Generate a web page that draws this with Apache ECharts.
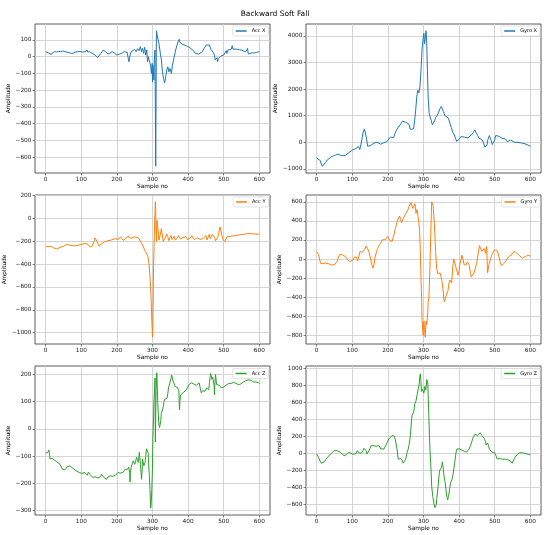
<!DOCTYPE html>
<html><head><meta charset="utf-8">
<script src="https://cdn.jsdelivr.net/npm/echarts@6/dist/echarts.min.js"></script>
<style>html,body{margin:0;padding:0;background:#fff}#c{width:550px;height:535px}</style>
</head><body><div id="c"></div>
<script>
const accX = [[0,30],[4,26],[8,22],[12,18],[15,14],[19,20],[24,30],[30,28],[36,32],[42,30],[48,34],[51,36],[55,30],[60,28],[66,24],[72,20],[78,22],[84,28],[90,30],[97,32],[104,28],[110,30],[114,26],[116,40],[118,28],[124,30],[130,20],[136,14],[141,4],[146,-4],[150,0],[155,20],[162,40],[168,30],[175,16],[181,22],[187,30],[193,22],[200,10],[207,16],[214,20],[220,30],[225,40],[229,26],[232,-12],[234,-30],[237,10],[240,30],[245,38],[250,44],[254,30],[258,48],[262,36],[266,60],[269,30],[272,50],[275,20],[278,56],[281,10],[284,40],[286,-30],[288,0],[291,-10],[293,-40],[295,-60],[297,-100],[299,-40],[300,-150],[301,-50],[302,-80],[304,-140],[305,-20],[307,40],[309,-654],[311,155],[313,130],[316,140],[318,80],[322,20],[325,-20],[328,-90],[331,-130],[334,-156],[337,-120],[340,-80],[343,-60],[346,-90],[349,-70],[351,-85],[353,-100],[356,-50],[359,-20],[361,-10],[365,40],[369,70],[372,90],[375,104],[377,85],[380,80],[385,74],[390,70],[395,66],[400,60],[405,54],[410,50],[415,36],[420,20],[425,16],[430,16],[435,22],[440,30],[445,50],[451,70],[456,66],[460,70],[464,44],[468,34],[471,24],[474,10],[476,-20],[478,-10],[479,-30],[481,-6],[483,-28],[485,-10],[488,0],[492,4],[496,6],[500,10],[504,20],[507,36],[509,20],[512,40],[517,46],[521,44],[524,66],[526,44],[532,46],[538,44],[544,42],[550,40],[556,34],[562,30],[566,28],[567,50],[569,16],[574,20],[580,24],[586,22],[592,26],[600,30]];
const gyroX = [[0,-600],[5,-630],[10,-690],[13,-820],[16,-905],[20,-860],[25,-760],[30,-665],[35,-600],[40,-560],[45,-530],[50,-500],[55,-440],[60,-450],[65,-470],[70,-510],[75,-540],[80,-500],[85,-450],[90,-400],[95,-350],[100,-300],[105,-260],[110,-240],[115,-230],[117,-165],[119,-200],[121,-280],[124,-100],[127,100],[130,350],[134,500],[137,440],[140,150],[143,-150],[146,-200],[150,-140],[155,-80],[160,-40],[165,-10],[170,0],[175,-30],[180,-80],[183,-90],[187,-30],[192,10],[197,20],[202,60],[207,190],[212,130],[216,170],[220,320],[224,450],[228,540],[233,550],[237,700],[241,790],[245,740],[250,750],[255,740],[259,680],[263,480],[268,420],[272,500],[275,800],[278,1200],[281,1700],[284,1950],[287,1850],[290,2100],[293,2700],[296,3500],[299,3900],[301,4090],[303,3700],[305,3900],[307,4190],[309,3800],[311,2700],[313,1700],[316,1070],[319,1000],[322,800],[325,650],[328,590],[331,800],[334,920],[338,1000],[342,1100],[346,1250],[350,1345],[353,1250],[356,1150],[360,1000],[365,970],[370,900],[374,720],[378,560],[382,380],[386,290],[390,150],[393,30],[395,0],[398,40],[401,120],[405,210],[410,200],[415,190],[420,170],[425,160],[430,210],[435,280],[440,360],[444,465],[448,350],[452,250],[456,150],[460,120],[464,90],[468,0],[472,-180],[475,-250],[478,-120],[481,100],[485,250],[488,200],[490,60],[493,-90],[496,-40],[499,50],[503,250],[508,300],[512,220],[516,170],[520,150],[525,140],[530,120],[535,20],[540,60],[545,80],[550,10],[555,0],[560,-20],[565,-10],[570,-10],[575,-30],[580,-60],[585,-60],[590,-90],[595,-120],[600,-150]];
const accY = [[0,-248],[3,-240],[6,-246],[8,-230],[11,-250],[15,-244],[18,-250],[22,-256],[26,-262],[30,-268],[35,-260],[40,-254],[45,-248],[50,-242],[55,-234],[60,-228],[65,-232],[70,-236],[75,-240],[80,-240],[85,-238],[90,-236],[95,-232],[100,-228],[105,-224],[110,-219],[113,-214],[115,-208],[118,-225],[121,-236],[124,-248],[127,-254],[130,-246],[133,-232],[136,-200],[139,-170],[141,-160],[143,-180],[146,-215],[150,-242],[154,-232],[158,-220],[162,-210],[166,-204],[170,-198],[175,-195],[180,-190],[185,-188],[190,-184],[195,-178],[200,-175],[205,-182],[210,-160],[214,-170],[218,-192],[222,-182],[226,-172],[230,-168],[232,-152],[235,-170],[238,-160],[242,-172],[246,-158],[250,-162],[255,-165],[260,-168],[264,-180],[268,-210],[272,-232],[276,-262],[280,-290],[284,-305],[287,-330],[290,-394],[292,-470],[294,-560],[296,-700],[298,-880],[300,-1040],[301,-950],[302,-700],[303,-420],[305,-160],[306,-40],[307,50],[308,146],[309,60],[310,-130],[311,-200],[312,-60],[313,-15],[314,-60],[316,-110],[318,-190],[320,-180],[322,-140],[325,-90],[327,-100],[330,-200],[333,-190],[336,-170],[340,-135],[343,-160],[346,-195],[349,-170],[352,-150],[355,-185],[358,-175],[361,-155],[364,-190],[367,-204],[370,-170],[373,-150],[376,-140],[379,-180],[382,-195],[386,-165],[390,-150],[394,-160],[398,-185],[402,-178],[406,-172],[410,-150],[414,-165],[418,-185],[422,-190],[426,-168],[430,-160],[434,-185],[438,-192],[442,-175],[446,-165],[450,-150],[453,-188],[456,-165],[459,-140],[462,-176],[465,-160],[468,-138],[472,-150],[475,-170],[477,-195],[479,-206],[482,-170],[485,-150],[488,-100],[490,-75],[492,-110],[495,-150],[498,-185],[500,-195],[503,-204],[506,-180],[510,-160],[514,-150],[520,-155],[525,-150],[530,-152],[535,-148],[540,-146],[545,-142],[550,-140],[555,-141],[560,-137],[565,-132],[570,-131],[575,-134],[580,-134],[585,-136],[590,-137],[595,-135],[600,-137]];
const gyroY = [[0,77],[3,65],[5,50],[8,0],[11,-45],[14,-40],[17,-50],[21,-40],[25,-42],[29,-50],[33,-48],[37,-55],[41,-62],[45,-58],[50,-60],[54,-45],[58,-20],[61,20],[64,45],[68,50],[72,45],[76,40],[81,25],[86,0],[90,-15],[93,-28],[97,-25],[102,-10],[106,20],[109,40],[112,20],[115,-20],[118,20],[122,80],[125,95],[128,70],[131,50],[135,100],[139,137],[143,110],[147,70],[151,10],[155,-60],[158,-95],[161,-60],[164,20],[167,60],[171,110],[175,140],[180,170],[184,200],[188,215],[193,205],[196,215],[199,235],[202,215],[206,190],[209,180],[212,185],[216,240],[221,320],[225,380],[229,420],[233,450],[236,410],[238,380],[242,410],[245,440],[248,450],[251,480],[254,500],[257,520],[259,550],[261,560],[263,540],[265,590],[267,570],[270,530],[273,550],[276,580],[279,480],[282,520],[285,430],[287,380],[289,300],[291,100],[293,-200],[295,-450],[296,-650],[298,-750],[299,-800],[300,-720],[301,-650],[303,-740],[305,-820],[306,-720],[307,-650],[309,-690],[310,-700],[312,-560],[313,-450],[315,-420],[316,-400],[318,-100],[320,200],[322,480],[323,600],[325,580],[327,560],[330,400],[332,250],[334,80],[337,-100],[340,-150],[343,-170],[345,-140],[347,-150],[350,-200],[352,-240],[355,-330],[357,-420],[359,-450],[361,-410],[364,-380],[366,-360],[369,-330],[371,-260],[374,-220],[377,-240],[379,-250],[381,-150],[383,-50],[385,0],[387,10],[389,-20],[392,-100],[395,-140],[397,-170],[400,-120],[402,-60],[405,-10],[408,40],[410,20],[412,-20],[414,-60],[417,-70],[420,-60],[423,-30],[425,-20],[428,-60],[432,-150],[434,-190],[436,-210],[439,-170],[442,-140],[444,-130],[446,-120],[449,-50],[452,20],[455,90],[457,140],[459,154],[461,120],[464,80],[467,100],[470,110],[472,90],[475,60],[477,130],[478,100],[479,-60],[480,-144],[482,-100],[484,-60],[486,-30],[488,0],[491,30],[494,60],[498,90],[502,105],[505,95],[509,70],[512,20],[515,-30],[519,-70],[523,-65],[528,-40],[533,-10],[539,25],[543,30],[547,40],[551,70],[554,84],[558,75],[563,60],[568,40],[573,20],[577,10],[582,15],[586,25],[590,30],[593,40],[597,35],[600,30]];
const accZ = [[0,-89],[3,-86],[6,-86],[8,-80],[9,-77],[11,-95],[12,-110],[15,-105],[18,-108],[21,-110],[25,-115],[28,-118],[31,-120],[35,-125],[40,-130],[44,-140],[47,-148],[50,-152],[54,-150],[57,-148],[61,-138],[64,-133],[68,-136],[73,-142],[77,-145],[82,-150],[86,-154],[90,-156],[94,-160],[98,-162],[101,-163],[105,-158],[110,-160],[113,-165],[117,-170],[120,-158],[122,-160],[125,-168],[129,-173],[132,-178],[136,-185],[139,-176],[143,-170],[147,-180],[150,-183],[154,-175],[157,-166],[161,-172],[164,-179],[168,-182],[171,-185],[175,-176],[178,-170],[182,-172],[185,-170],[189,-174],[193,-175],[196,-170],[199,-166],[203,-160],[207,-158],[210,-162],[213,-166],[217,-160],[220,-154],[223,-148],[225,-142],[228,-146],[230,-148],[233,-140],[235,-135],[236,-160],[237,-195],[238,-160],[240,-142],[243,-128],[246,-117],[248,-124],[250,-130],[253,-118],[255,-104],[258,-112],[260,-123],[262,-100],[263,-86],[265,-110],[266,-130],[268,-160],[269,-185],[271,-150],[272,-110],[274,-125],[276,-135],[279,-123],[281,-100],[283,-73],[286,-67],[288,-90],[289,-123],[291,-170],[293,-222],[295,-291],[297,-260],[298,-222],[300,-140],[301,-36],[303,40],[304,100],[306,150],[307,187],[308,-48],[309,40],[310,137],[312,206],[313,170],[315,88],[317,40],[318,14],[320,5],[321,7],[323,30],[325,57],[327,50],[329,63],[331,85],[332,100],[334,108],[336,113],[339,110],[341,113],[343,130],[345,150],[348,165],[350,175],[352,185],[354,197],[356,190],[358,175],[361,165],[363,156],[365,152],[367,150],[370,152],[372,153],[374,140],[375,100],[376,70],[377,105],[379,125],[382,130],[384,132],[388,135],[391,138],[394,142],[397,144],[400,155],[403,163],[406,166],[409,169],[412,167],[416,165],[420,162],[423,160],[427,165],[431,169],[434,150],[437,132],[440,140],[444,144],[447,138],[449,135],[452,150],[454,156],[456,150],[458,144],[460,170],[463,203],[465,195],[467,182],[469,190],[471,188],[473,160],[474,125],[475,160],[477,200],[479,175],[480,163],[483,168],[485,169],[488,160],[491,153],[494,150],[496,150],[500,154],[503,156],[506,160],[509,163],[513,166],[517,169],[520,167],[524,165],[527,170],[531,172],[534,168],[537,163],[541,162],[545,160],[548,165],[552,169],[555,172],[559,175],[562,177],[565,178],[569,180],[573,182],[577,178],[580,175],[584,172],[587,169],[590,172],[593,175],[597,170],[600,166]];
const gyroZ = [[0,-8],[3,-15],[5,-28],[7,-60],[9,-88],[11,-105],[13,-116],[17,-110],[21,-100],[25,-75],[30,-48],[35,-25],[39,-8],[44,15],[49,32],[54,34],[58,32],[63,25],[67,12],[72,-10],[77,-28],[80,-25],[83,-16],[87,0],[91,12],[96,5],[100,-8],[105,-5],[109,-8],[112,10],[114,32],[117,15],[119,4],[123,0],[126,4],[130,30],[133,60],[137,72],[139,30],[141,-8],[144,10],[147,32],[150,60],[153,92],[156,80],[158,72],[161,90],[163,100],[166,90],[168,84],[172,95],[175,92],[178,70],[180,52],[185,50],[189,52],[192,75],[195,100],[199,140],[203,172],[208,195],[212,212],[215,210],[218,204],[221,160],[223,112],[226,40],[229,-68],[232,-60],[234,-76],[236,-60],[238,-48],[241,-90],[243,-116],[246,-100],[250,-68],[252,-30],[254,12],[257,50],[259,92],[262,170],[264,252],[266,370],[268,452],[270,470],[272,484],[274,530],[276,592],[279,620],[280,610],[282,692],[284,700],[286,712],[288,820],[289,892],[291,940],[292,952],[293,850],[294,732],[296,760],[298,772],[300,740],[301,712],[303,760],[304,792],[306,750],[307,732],[308,800],[309,872],[311,860],[312,832],[313,700],[315,452],[316,300],[318,52],[320,-100],[321,-188],[323,-388],[326,-508],[328,-560],[330,-608],[332,-640],[334,-648],[336,-600],[337,-548],[339,-470],[341,-388],[343,-290],[345,-208],[348,-185],[350,-168],[352,-130],[353,-100],[355,-160],[356,-208],[358,-280],[361,-348],[363,-420],[364,-468],[366,-520],[368,-548],[370,-510],[372,-468],[374,-400],[376,-348],[378,-330],[380,-308],[383,-250],[385,-188],[388,-100],[390,-28],[392,20],[394,52],[397,55],[401,52],[404,45],[407,40],[410,45],[412,40],[415,25],[418,12],[421,15],[425,20],[428,50],[432,92],[435,130],[438,172],[441,200],[444,224],[448,215],[452,212],[455,225],[459,244],[462,235],[464,212],[467,200],[469,210],[471,172],[474,140],[476,100],[478,110],[480,124],[483,80],[486,44],[489,30],[493,12],[496,10],[499,12],[503,-20],[507,-68],[510,-62],[513,-60],[517,-70],[521,-68],[525,-66],[530,-68],[533,-72],[537,-76],[541,-80],[544,-88],[547,-100],[549,-116],[552,-90],[554,-68],[557,-45],[560,-28],[564,-10],[567,0],[571,8],[575,12],[578,8],[582,0],[586,-3],[591,-8],[595,-12],[600,-16]];

const seriesNames = ['Acc X','Gyro X','Acc Y','Gyro Y','Acc Z','Gyro Z'];
const seriesList = [accX, gyroX, accY, gyroY, accZ, gyroZ];
const lineColors = ['#1f77b4','#1f77b4','#ff7f0e','#ff7f0e','#2ca02c','#2ca02c'];
const xTicks = [0,100,200,300,400,500,600];
const yTicks = [
  [-600,-500,-400,-300,-200,-100,0,100],
  [-1000,0,1000,2000,3000,4000],
  [-1000,-800,-600,-400,-200,0,200],
  [-800,-600,-400,-200,0,200,400,600],
  [-300,-200,-100,0,100,200],
  [-600,-400,-200,0,200,400,600,800,1000]
];
const titleText = 'Backward Soft Fall';
const xName = 'Sample no';
const yName = 'Amplitude';

const FONT = 'DejaVu Sans';
const gridPos = [[35,24],[306,24],[35,195],[306,195],[35,366],[306,366]];
const yNameGaps = [20,24,20,20.5,19.5,21];
const legendTops = [26,26,197,197,368.5,368.5];
const legendRights = [281.5,10,281.5,10,281.5,10];
const fmt = v => String(v).replace('-', '\u2212');

function pad(vals){
  const mn = Math.min(...vals), mx = Math.max(...vals), r = mx - mn;
  return [mn - 0.05*r, mx + 0.05*r];
}

const grids=[], xAxes=[], yAxes=[], series=[], legends=[];
seriesList.forEach((d,i)=>{
  grids.push({left:gridPos[i][0], top:gridPos[i][1], width:235, height:149, show:true,
    borderColor:'#333', borderWidth:0.8, backgroundColor:'#fff', containLabel:false});
  const xe = pad(d.map(p=>p[0]));
  const ye = pad(d.map(p=>p[1]));
  xAxes.push({type:'value', gridIndex:i, min:xe[0], max:xe[1], position:'bottom',
    name:xName, nameLocation:'middle', nameGap:10,
    nameTextStyle:{fontSize:5.8, color:'#000', fontFamily:FONT},
    axisLine:{show:false, onZero:false},
    axisTick:{show:true, length:2.5, customValues:xTicks, lineStyle:{color:'#333', width:0.6}},
    axisLabel:{customValues:xTicks, fontSize:5.8, color:'#222', margin:3.5, fontFamily:FONT, formatter:fmt},
    splitLine:{show:true, lineStyle:{color:'#cfcfcf', width:0.9}}
  });
  yAxes.push({type:'value', gridIndex:i, min:ye[0], max:ye[1], position:'left',
    name:yName, nameLocation:'middle', nameGap:yNameGaps[i],
    nameTextStyle:{fontSize:5.8, color:'#000', fontFamily:FONT},
    axisLine:{show:false, onZero:false},
    axisTick:{show:true, length:2.5, customValues:yTicks[i], lineStyle:{color:'#333', width:0.6}},
    axisLabel:{customValues:yTicks[i], fontSize:5.8, color:'#222', margin:3.5, fontFamily:FONT, formatter:fmt},
    splitLine:{show:true, lineStyle:{color:'#cfcfcf', width:0.9}}
  });
  series.push({type:'line', name:seriesNames[i], xAxisIndex:i, yAxisIndex:i, data:d,
    showSymbol:false, symbol:'none', color:lineColors[i],
    lineStyle:{width:1, color:lineColors[i]}, animation:false});
  legends.push({data:[seriesNames[i]], right:legendRights[i], top:legendTops[i],
    backgroundColor:'#fff', borderColor:'#d0d0d0', borderWidth:0.6, borderRadius:1.5,
    padding:[2.5,3,2.5,3], itemWidth:11, itemHeight:1.5, itemGap:4, icon:'rect',
    textStyle:{fontSize:5, color:'#000', fontFamily:FONT, padding:[0,0,0,0]}});
});

const chart = echarts.init(document.getElementById('c'), null, {renderer:'canvas'});
chart.setOption({
  animation:false,
  backgroundColor:'#fff',
  title:{text:titleText, left:'center', top:5, textStyle:{fontSize:7.5, fontWeight:'normal', color:'#000', fontFamily:FONT}},
  grid:grids, xAxis:xAxes, yAxis:yAxes, series:series, legend:legends
});
</script></body></html>
